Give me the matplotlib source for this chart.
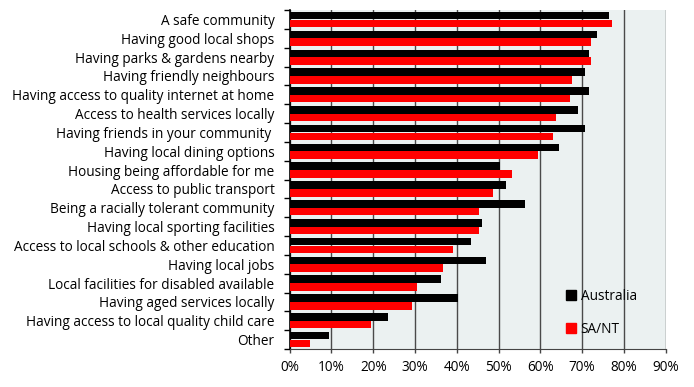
import numpy as np
import matplotlib
matplotlib.use('Agg')
import matplotlib.pyplot as plt
from matplotlib.patches import Patch

plt.rcParams['font.family'] = ['Open Sans', 'DejaVu Sans']

# 各项因素（自上而下）
categories = [
    'A safe community',
    'Having good local shops',
    'Having parks & gardens nearby',
    'Having friendly neighbours',
    'Having access to quality internet at home',
    'Access to health services locally',
    'Having friends in your community ',
    'Having local dining options',
    'Housing being affordable for me',
    'Access to public transport',
    'Being a racially tolerant community',
    'Having local sporting facilities',
    'Access to local schools & other education',
    'Having local jobs',
    'Local facilities for disabled available',
    'Having aged services locally',
    'Having access to local quality child care',
    'Other',
]
australia = [76.5, 73.5, 71.7, 70.7, 71.7, 69.0, 70.7, 64.5, 50.4, 51.8,
             56.3, 46.0, 43.4, 47.0, 36.2, 40.3, 23.5, 9.4]
sa_nt = [77.2, 72.1, 72.1, 67.6, 67.1, 63.8, 63.0, 59.5, 53.2, 48.7,
         45.3, 45.3, 39.1, 36.7, 30.5, 29.3, 19.5, 4.9]
x_ticks = list(range(0, 100, 10))

fig = plt.figure(figsize=(6.94, 3.87), dpi=100)
ax = fig.add_axes([0.4174, 0.0982, 0.5418, 0.8758])
ax.set_facecolor('#ebf1f1')

y = np.arange(len(categories))
h = 0.4
ax.barh(y - h / 2 - 0.005, australia, height=h, color='black', zorder=3)
ax.barh(y + h / 2 + 0.005, sa_nt, height=h, color='#ff0000', zorder=3)

ax.set_ylim(len(categories) - 0.5, -0.5)
ax.set_xlim(0, 90)

ax.set_xticks(x_ticks)
ax.set_xticklabels([f'{v}%' for v in x_ticks], fontsize=9.8)
ax.xaxis.grid(True, color='#4a4a4a', linewidth=1.0, zorder=1)

ax.set_yticks(y)
ax.set_yticklabels(categories, fontsize=9.8)
ax.set_yticks(np.arange(len(categories) + 1) - 0.5, minor=True)
ax.tick_params(axis='y', which='major', length=0, pad=11)
ax.tick_params(axis='y', which='minor', length=4, width=1, color='black')
ax.tick_params(axis='x', length=3, width=1, color='#444444', pad=5)

for s in ['top', 'right']:
    ax.spines[s].set_visible(False)
ax.spines['left'].set_color('black')
ax.spines['left'].set_linewidth(1.2)
ax.spines['bottom'].set_color('#444444')

handles = [Patch(color='black', label='Australia'),
           Patch(color='#ff0000', label='SA/NT')]
leg = ax.legend(handles=handles, loc='lower left', bbox_to_anchor=(0.703, 0.0),
                frameon=False, fontsize=9.8, labelspacing=1.3,
                handlelength=0.75, handleheight=0.75, handletextpad=0.3)

fig.savefig('out.png', dpi=100)
